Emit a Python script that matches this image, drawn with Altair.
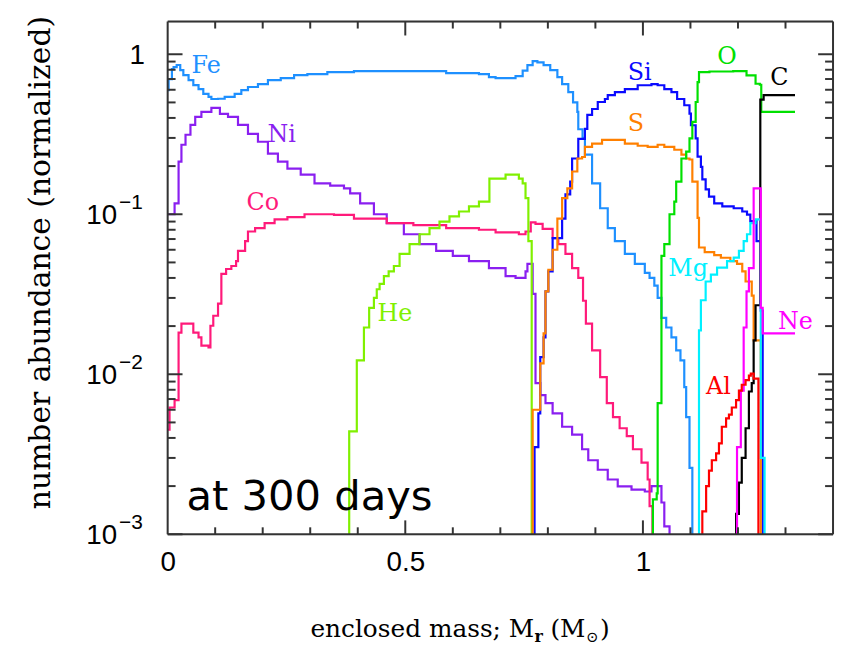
import altair as alt
import pandas as pd

BELOW = 1e-4  # below the plotted range: draws the drop off the bottom of the frame

elements = ["Fe", "Ni", "Co", "He", "Si", "S", "O", "C", "Mg", "Ne", "Al"]
colors = ["#1e90ff", "#8a1ff0", "#ff1a7a", "#80f000", "#0a0aff", "#ff8000",
          "#00e000", "#000000", "#00f0ff", "#ff00ff", "#ff0000"]

fe = [(0, 0.597), (0.002, 0.70), (0.009, 0.807), (0.0125, 0.83), (0.019, 0.857), (0.0265, 0.796),
      (0.033, 0.741), (0.044, 0.69), (0.054, 0.642), (0.065, 0.606), (0.075, 0.565), (0.086, 0.541),
      (0.092, 0.525), (0.106, 0.527), (0.12, 0.541), (0.141, 0.565), (0.155, 0.597), (0.169, 0.624),
      (0.19, 0.651), (0.211, 0.69), (0.238, 0.71), (0.266, 0.741), (0.294, 0.751), (0.336, 0.773),
      (0.392, 0.784), (0.517, 0.784), (0.586, 0.762), (0.655, 0.751), (0.676, 0.72), (0.69, 0.71),
      (0.711, 0.71), (0.732, 0.73), (0.747, 0.79), (0.757, 0.855), (0.768, 0.905), (0.778, 0.89),
      (0.791, 0.855), (0.805, 0.795), (0.82, 0.72), (0.83, 0.65), (0.843, 0.58), (0.853, 0.50),
      (0.862, 0.436), (0.864, 0.34), (0.873, 0.30), (0.878, 0.236), (0.893, 0.156), (0.91, 0.109),
      (0.926, 0.082), (0.941, 0.068), (0.962, 0.0565), (0.983, 0.049), (1.004, 0.043), (1.014, 0.04),
      (1.024, 0.0358), (1.031, 0.03), (1.039, 0.0225), (1.049, 0.0196), (1.06, 0.017), (1.07, 0.0141),
      (1.079, 0.0122), (1.087, 0.0083), (1.091, 0.0054), (1.098, 0.0026), (1.104, BELOW)]

ni = [(0, 0.1), (0.0146, 0.117), (0.023, 0.213), (0.029, 0.272), (0.0376, 0.314), (0.048, 0.362),
      (0.058, 0.406), (0.071, 0.436), (0.092, 0.462), (0.11, 0.424), (0.127, 0.406), (0.148, 0.362),
      (0.169, 0.318), (0.19, 0.284), (0.211, 0.239), (0.232, 0.213), (0.252, 0.193), (0.28, 0.177),
      (0.309, 0.156), (0.342, 0.151), (0.371, 0.145), (0.384, 0.135), (0.405, 0.117), (0.434, 0.1),
      (0.461, 0.088), (0.497, 0.075), (0.53, 0.065), (0.565, 0.059), (0.6, 0.055), (0.634, 0.051),
      (0.676, 0.046), (0.711, 0.041), (0.732, 0.04), (0.753, 0.044), (0.757, 0.049), (0.768, 0.0318),
      (0.774, 0.0088), (0.784, 0.0074), (0.795, 0.0066), (0.81, 0.0057), (0.83, 0.0047), (0.851, 0.0042),
      (0.872, 0.0034), (0.885, 0.0029), (0.905, 0.00253), (0.926, 0.0022), (0.947, 0.00199),
      (0.976, 0.0019), (1.004, 0.00185), (1.018, 0.002), (1.039, 0.00158), (1.045, 0.00112),
      (1.056, BELOW)]

co = [(0, 0.0045), (0.004, 0.0062), (0.0146, 0.0069), (0.023, 0.0182), (0.029, 0.0207), (0.044, 0.0207),
      (0.054, 0.0182), (0.065, 0.017), (0.071, 0.0151), (0.086, 0.0147), (0.09, 0.0201), (0.096, 0.0232),
      (0.106, 0.0276), (0.113, 0.0424), (0.123, 0.0455), (0.134, 0.0475), (0.144, 0.051), (0.148, 0.059),
      (0.163, 0.068), (0.169, 0.078), (0.184, 0.082), (0.204, 0.088), (0.225, 0.093), (0.252, 0.096),
      (0.288, 0.1), (0.35, 0.099), (0.392, 0.094), (0.461, 0.088), (0.517, 0.0855), (0.586, 0.082),
      (0.655, 0.08), (0.69, 0.077), (0.739, 0.075), (0.753, 0.078), (0.764, 0.089), (0.774, 0.087),
      (0.789, 0.081), (0.81, 0.071), (0.822, 0.065), (0.837, 0.0565), (0.851, 0.046), (0.864, 0.04),
      (0.874, 0.0288), (0.88, 0.0207), (0.893, 0.0141), (0.91, 0.0096), (0.924, 0.0066), (0.937, 0.0054),
      (0.951, 0.0046), (0.966, 0.0041), (0.979, 0.0034), (0.997, 0.0028), (1.01, 0.0022), (1.014, 0.0015),
      (1.02, BELOW)]

he = [(0.38, BELOW), (0.382, 0.0044), (0.398, 0.0122), (0.413, 0.0196), (0.424, 0.026), (0.434, 0.030),
      (0.44, 0.034), (0.446, 0.0367), (0.455, 0.041), (0.465, 0.044), (0.476, 0.0475), (0.488, 0.0565),
      (0.509, 0.065), (0.53, 0.075), (0.551, 0.082), (0.572, 0.09), (0.593, 0.097), (0.613, 0.104),
      (0.634, 0.112), (0.655, 0.12), (0.677, 0.167), (0.711, 0.177), (0.739, 0.167), (0.747, 0.156),
      (0.753, 0.126), (0.759, 0.068), (0.766, BELOW)]

si = [(0.77, BELOW), (0.772, 0.0035), (0.78, 0.0057), (0.784, 0.0128), (0.791, 0.017), (0.795, 0.033),
      (0.801, 0.044), (0.81, 0.071), (0.83, 0.094), (0.837, 0.133), (0.847, 0.16), (0.851, 0.223),
      (0.864, 0.296), (0.878, 0.342), (0.883, 0.418), (0.893, 0.455), (0.905, 0.503), (0.92, 0.525),
      (0.926, 0.556), (0.941, 0.58), (0.962, 0.606), (0.989, 0.64), (1.018, 0.65), (1.031, 0.64),
      (1.045, 0.606), (1.06, 0.58), (1.072, 0.525), (1.087, 0.48), (1.098, 0.425), (1.101, 0.36),
      (1.111, 0.298), (1.115, 0.229), (1.122, 0.198), (1.125, 0.165), (1.132, 0.143), (1.139, 0.129),
      (1.15, 0.117), (1.167, 0.112), (1.191, 0.109), (1.209, 0.104), (1.219, 0.0995), (1.226, 0.0905),
      (1.239, 0.068), (1.248, 0.025), (1.252, BELOW)]

s = [(0.766, BELOW), (0.768, 0.006), (0.784, 0.0117), (0.791, 0.018), (0.795, 0.033), (0.801, 0.045),
     (0.81, 0.06), (0.82, 0.094), (0.83, 0.126), (0.841, 0.145), (0.851, 0.185), (0.862, 0.223),
     (0.872, 0.228), (0.878, 0.264), (0.893, 0.276), (0.914, 0.292), (0.935, 0.292), (0.962, 0.276),
     (0.989, 0.268), (1.01, 0.264), (1.031, 0.272), (1.045, 0.264), (1.066, 0.253), (1.081, 0.236),
     (1.091, 0.223), (1.098, 0.22), (1.104, 0.16), (1.115, 0.095), (1.118, 0.062), (1.13, 0.058),
     (1.15, 0.0555), (1.164, 0.0535), (1.184, 0.051), (1.198, 0.049), (1.209, 0.044), (1.216, 0.038),
     (1.229, 0.031), (1.233, 0.0163), (1.248, BELOW)]

o = [(1.019, BELOW), (1.021, 0.00165), (1.029, 0.0018), (1.031, 0.0066), (1.039, 0.055), (1.045, 0.065),
     (1.056, 0.1), (1.066, 0.12), (1.07, 0.16), (1.081, 0.223), (1.091, 0.246), (1.098, 0.298),
     (1.104, 0.378), (1.111, 0.503), (1.115, 0.67), (1.118, 0.773), (1.14, 0.78), (1.19, 0.784),
     (1.218, 0.737), (1.237, 0.654), (1.246, 0.645), (1.249, 0.436), (1.32, 0.436)]

c = [(1.195, BELOW), (1.196, 0.00134), (1.202, 0.0021), (1.208, 0.003), (1.216, 0.0046), (1.223, 0.0078),
     (1.229, 0.0088), (1.233, 0.0163), (1.237, 0.027), (1.247, 0.52), (1.254, 0.556), (1.32, 0.556)]

mg = [(1.117, BELOW), (1.118, 0.0188), (1.122, 0.029), (1.132, 0.038), (1.143, 0.042), (1.156, 0.0464),
      (1.177, 0.051), (1.191, 0.0536), (1.202, 0.059), (1.212, 0.068), (1.219, 0.075), (1.226, 0.088),
      (1.237, 0.093), (1.248, 0.003), (1.256, BELOW)]

ne = [(1.197, BELOW), (1.198, 0.0035), (1.206, 0.0079), (1.212, 0.0196), (1.218, 0.033), (1.223, 0.046),
      (1.233, 0.145), (1.248, 0.026), (1.252, 0.018), (1.32, 0.018)]

al = [(1.124, BELOW), (1.125, 0.00139), (1.133, 0.002), (1.139, 0.0025), (1.145, 0.0029), (1.154, 0.0032),
      (1.16, 0.0037), (1.166, 0.0047), (1.175, 0.0053), (1.181, 0.0056), (1.187, 0.0062), (1.196, 0.0069),
      (1.202, 0.0079), (1.208, 0.0086), (1.216, 0.0092), (1.223, 0.0098), (1.227, 0.0101), (1.233, 0.0094),
      (1.243, BELOW)]

series = {"Fe": fe, "Ni": ni, "Co": co, "He": he, "Si": si, "S": s, "O": o,
          "C": c, "Mg": mg, "Ne": ne, "Al": al}

# element label anchor points (data coordinates)
label_x = [0.081, 0.24, 0.2, 0.478, 0.993, 0.985, 1.177, 1.287, 1.095, 1.321, 1.159]
label_y = [0.842, 0.314, 0.117, 0.0239, 0.762, 0.367, 0.958, 0.71, 0.0455, 0.0213, 0.0083]

y_major = [0.001, 0.01, 0.1, 1]
y_minor = [m * 10.0 ** e for e in (-3, -2, -1) for m in range(2, 10)]
x_major = [0.5, 1.0]
x_minor = [0.1, 0.2, 0.3, 0.4, 0.6, 0.7, 0.8, 0.9, 1.1, 1.2, 1.3]
x_labels = [0, 0.5, 1]

rows = []
for el in elements:
    for i, (xv, yv) in enumerate(series[el]):
        rows.append({"element": el, "x": xv, "y": yv, "i": i})
df = pd.DataFrame(rows)
df_lab = pd.DataFrame({"element": elements, "x": label_x, "y": label_y})

W, H = 671, 517
OX, OY = 169, 19   # page position of the plot origin
FRAME = "#333333"
SERIF = "DejaVu Serif"
SANS = "Liberation Sans"

xs = alt.Scale(domain=[0, 1.4], nice=False, zero=False)
ys = alt.Scale(type="log", domain=[0.001, 1.6], nice=False)
xaxis = alt.Axis(values=x_labels, format="~g", title="", grid=False, ticks=False, tickSize=0,
                 domain=False, labelFont=SANS, labelFontSize=28, labelColor="black",
                 labelPadding=15, labelFlush=False)


def X():
    return alt.X("x:Q", scale=xs, axis=xaxis)


def Y():
    return alt.Y("y:Q", scale=ys, axis=None)


cscale = alt.Scale(domain=elements, range=colors)

lines = alt.Chart(df).mark_line(interpolate="step-after", clip=True, strokeWidth=2.2).encode(
    x=X(), y=Y(),
    color=alt.Color("element:N", scale=cscale, legend=None),
    order="i:Q",
)

labels = alt.Chart(df_lab).mark_text(font=SERIF, fontSize=24, baseline="middle", align="center").encode(
    x=X(), y=Y(), color=alt.Color("element:N", scale=cscale, legend=None), text="element:N"
)


def ydf(vals):
    return pd.DataFrame({"y": vals})


def xdf(vals):
    return pd.DataFrame({"x": vals})


def yticks(vals, length):
    left = alt.Chart(ydf(vals)).mark_rule(color=FRAME, strokeWidth=2).encode(
        y=Y(), x=alt.value(0), x2=alt.value(length))
    right = alt.Chart(ydf(vals)).mark_rule(color=FRAME, strokeWidth=2).encode(
        y=Y(), x=alt.value(W), x2=alt.value(W - length))
    return [left, right]


def xticks(vals, length):
    top = alt.Chart(xdf(vals)).mark_rule(color=FRAME, strokeWidth=2).encode(
        x=X(), y=alt.value(0), y2=alt.value(length))
    bot = alt.Chart(xdf(vals)).mark_rule(color=FRAME, strokeWidth=2).encode(
        x=X(), y=alt.value(H), y2=alt.value(H - length))
    return [top, bot]


ticks = yticks(y_major, 15) + yticks(y_minor, 8) + xticks(x_major, 14) + xticks(x_minor, 7)

one = pd.DataFrame({"a": [0]})

# plot frame (four sides)
frame = [
    alt.Chart(one).mark_rule(color=FRAME, strokeWidth=2).encode(
        x=alt.value(0), x2=alt.value(W), y=alt.value(0)),
    alt.Chart(one).mark_rule(color=FRAME, strokeWidth=2).encode(
        x=alt.value(0), x2=alt.value(W), y=alt.value(H)),
    alt.Chart(one).mark_rule(color=FRAME, strokeWidth=2).encode(
        y=alt.value(0), y2=alt.value(H), x=alt.value(0)),
    alt.Chart(one).mark_rule(color=FRAME, strokeWidth=2).encode(
        y=alt.value(0), y2=alt.value(H), x=alt.value(W)),
]

# y tick labels: 1, 10^-1, 10^-2, 10^-3
ylab_one = alt.Chart(ydf([1])).mark_text(font=SANS, fontSize=28, align="right", baseline="alphabetic",
                                         dy=10, text="1", color="black").encode(
    y=Y(), x=alt.value(146 - OX))
ylab_ten = alt.Chart(ydf([0.1, 0.01, 0.001])).mark_text(font=SANS, fontSize=28, align="right",
                                                       baseline="alphabetic", dy=10, text="10",
                                                       color="black").encode(
    y=Y(), x=alt.value(118 - OX))
exp_df = pd.DataFrame({"y": [0.1, 0.01, 0.001], "e": ["\u22121", "\u22122", "\u22123"]})
ylab_exp = alt.Chart(exp_df).mark_text(font=SANS, fontSize=21, align="left", baseline="alphabetic",
                                       dy=-5, color="black").encode(
    y=Y(), x=alt.value(120 - OX), text="e:N")


def note(text, px, py, size, font=SERIF, align="left", weight="normal", baseline="alphabetic", angle=0):
    kw = dict(text=text, font=font, fontSize=size, align=align, baseline=baseline,
              fontWeight=weight, color="black")
    if angle:
        kw["angle"] = angle
    return alt.Chart(one).mark_text(**kw).encode(x=alt.value(px - OX), y=alt.value(py - OY))


notes = [
    note("at 300 days", 188, 512, 42, font="DejaVu Sans"),
    note("enclosed mass; M", 313, 640, 25),
    note("r", 539, 645, 16, weight="bold"),
    note("(M", 555, 640, 25),
    note("\u2299", 591, 645, 15),
    note(")", 605, 640, 25),
    note("number abundance (normalized)", 41, 262, 30, align="center", baseline="middle", angle=270),
]

chart = alt.layer(lines, *ticks, *frame, labels, ylab_one, ylab_ten, ylab_exp, *notes).properties(
    width=W, height=H,
    autosize=alt.AutoSizeParams(type="none"),
    padding={"left": OX - 8, "top": OY - 8, "right": 3, "bottom": 113},
).configure_view(strokeWidth=0).configure(background="white")

chart.save("out.html", embed_options={"renderer": "svg", "actions": False})
